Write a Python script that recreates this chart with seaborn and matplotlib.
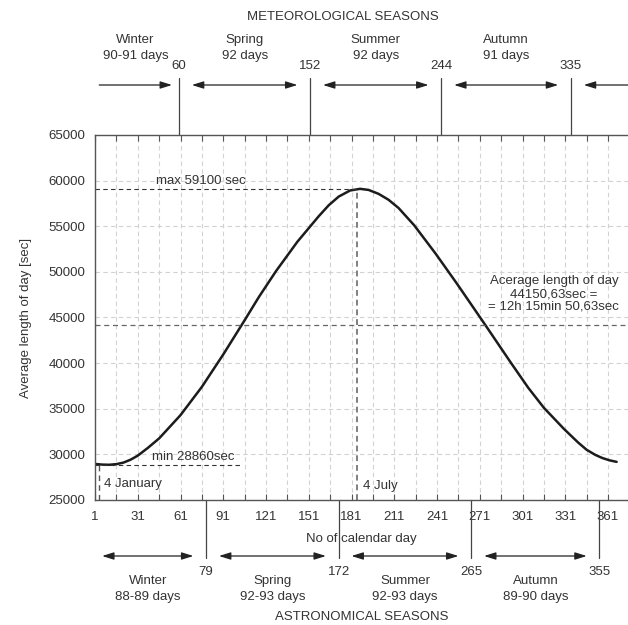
import numpy as np
import matplotlib
matplotlib.use("Agg")
import matplotlib.pyplot as plt
import matplotlib.transforms as mtransforms
import seaborn as sns

# Average length of day over the calendar year
days = [1, 6, 11, 16, 21, 26, 31, 38, 46, 61, 76, 91, 106, 116, 128, 143,
        158, 165, 172, 180, 187, 193, 200, 207, 214, 225, 240, 255, 275, 293,
        305, 316, 330, 340, 346, 352, 357, 362, 367]
length_sec = [28950, 28880, 28860, 28930, 29100, 29420, 29860, 30700, 31750,
              34300, 37400, 40950, 44700, 47250, 50080, 53300, 56100, 57300,
              58250, 58920, 59100, 58980, 58550, 57900, 57000, 55100, 52000,
              48700, 44150, 40000, 37300, 35100, 32800, 31300, 30500, 29950,
              29600, 29350, 29180]

x_ticks = [1, 31, 61, 91, 121, 151, 181, 211, 241, 271, 301, 331, 361]
y_ticks = [25000, 30000, 35000, 40000, 45000, 50000, 55000, 60000, 65000]

min_day, min_sec = 4, 28860
max_day, max_sec = 185, 59100
avg_sec = 44150.63

meteo_bounds = [60, 152, 244, 335]
meteo_names = ["Winter\n90-91 days", "Spring\n92 days",
               "Summer\n92 days", "Autumn\n91 days"]
astro_bounds = [79, 172, 265, 355]
astro_names = ["Winter\n88-89 days", "Spring\n92-93 days",
               "Summer\n92-93 days", "Autumn\n89-90 days"]

sns.set_theme(style="white")
plt.rcParams["font.family"] = ["Liberation Sans", "DejaVu Sans"]
plt.rcParams["text.color"] = "#333333"

FS = 9.5
W, H = 628, 625
fig = plt.figure(figsize=(W / 100, H / 100), dpi=100)
ax = fig.add_axes([95 / W, 1 - 500 / H, 1 - 95 / W, (500 - 135) / H])

sns.lineplot(x=days, y=length_sec, ax=ax, color="#1c1c1c", lw=1.8)

XMAX = 375
ax.set_xlim(1, XMAX)
ax.set_ylim(25000, 65000)

ax.set_xticks(x_ticks)
ax.set_xticks(np.arange(16, XMAX, 30), minor=True)
ax.set_yticks(y_ticks)
ax.set_yticklabels([str(v) for v in y_ticks])
ax.tick_params(axis="x", which="both", direction="in", top=True, bottom=True,
               length=4, width=0.8, color="#555555", labelsize=FS,
               labelcolor="#333333", pad=8)
ax.tick_params(axis="y", which="both", length=0, labelsize=FS,
               labelcolor="#333333", pad=7)

ax.grid(True, which="both", axis="x", color="#d2d2d2", ls=(0, (4, 3)), lw=0.8)
ax.grid(True, which="major", axis="y", color="#d2d2d2", ls=(0, (4, 3)), lw=0.8)

for side in ["left", "top", "bottom"]:
    ax.spines[side].set_color("#555555")
    ax.spines[side].set_linewidth(1.0)
ax.spines["right"].set_visible(False)

ax.set_xlabel("No of calendar day", fontsize=FS, color="#333333", labelpad=7)
ax.set_ylabel("Average length of day [sec]", fontsize=FS, color="#333333",
              labelpad=12)

# reference lines for minimum, maximum and mean
dash = (0, (4, 3))
ax.plot([1, 104], [min_sec, min_sec], color="#333333", lw=0.8, ls=dash)
ax.plot([min_day, min_day], [25000, min_sec], color="#555555", lw=1.0, ls=dash)
ax.plot([1, max_day], [max_sec, max_sec], color="#333333", lw=0.8, ls=dash)
ax.plot([max_day, max_day], [25000, max_sec], color="#808080", lw=1.4,
        ls=(0, (3, 2)))
ax.plot([1, XMAX], [avg_sec, avg_sec], color="#666666", lw=0.9, ls=dash)

ax.text(41, min_sec + 200, "min 28860sec", fontsize=FS, va="bottom")
ax.text(44, max_sec + 250, "max 59100 sec", fontsize=FS, va="bottom")
ax.text(min_day + 3, 26700, "4 January", fontsize=FS, va="center")
ax.text(max_day + 4, 26550, "4 July", fontsize=FS, va="center")
ax.text(323, 47570, "Acerage length of day\n44150,63sec =\n= 12h 15min 50,63sec",
        fontsize=FS, ha="center", va="center", linespacing=1.1)

# season markers above and below the plot
blend = mtransforms.blended_transform_factory(ax.transData, fig.transFigure)


def fy(px):
    return 1 - px / H


arrow_kw = dict(arrowstyle="-|>,head_length=0.7,head_width=0.22",
                color="#222222", lw=0.9, shrinkA=0, shrinkB=0,
                mutation_scale=10)
double_kw = dict(arrow_kw, arrowstyle="<|-|>,head_length=0.7,head_width=0.22")


def draw_arrow(x1, x2, y, kw):
    ax.annotate("", xy=(x2, fy(y)), xytext=(x1, fy(y)), xycoords=blend,
                textcoords=blend, arrowprops=kw, annotation_clip=False)


gap = 9

# meteorological seasons
fig.text(343 / W, fy(17), "METEOROLOGICAL SEASONS",
         fontsize=FS, ha="center", va="center")
for b in meteo_bounds:
    ax.plot([b, b], [fy(78), fy(135)], transform=blend, clip_on=False,
            color="#444444", lw=0.9)
    ax.text(b, fy(66), str(b), transform=blend, fontsize=FS,
            ha="center", va="center")
meteo_spans = [(4, meteo_bounds[0] - 5)] + [
    (meteo_bounds[i] + gap, meteo_bounds[i + 1] - gap) for i in range(3)]
for i, ((a, b), name) in enumerate(zip(meteo_spans, meteo_names)):
    if i == 0:
        draw_arrow(a, b, 85, arrow_kw)
    else:
        draw_arrow(a, b, 85, double_kw)
    ax.text(0.5 * (a + b), fy(48), name, transform=blend, fontsize=FS,
            ha="center", va="center", linespacing=1.35)
draw_arrow(XMAX, meteo_bounds[-1] + gap, 85, arrow_kw)

# astronomical seasons
astro_spans = [(6, astro_bounds[0] - gap)] + [
    (astro_bounds[i] + gap, astro_bounds[i + 1] - gap) for i in range(3)]
for b in astro_bounds:
    ax.plot([b, b], [fy(500), fy(558)], transform=blend, clip_on=False,
            color="#444444", lw=0.9)
    ax.text(b, fy(572), str(b), transform=blend, fontsize=FS,
            ha="center", va="center")
for (a, b), name in zip(astro_spans, astro_names):
    draw_arrow(a, b, 556, double_kw)
    ax.text(0.5 * (a + b), fy(589), name, transform=blend, fontsize=FS,
            ha="center", va="center", linespacing=1.35)
fig.text(362 / W, fy(617), "ASTRONOMICAL SEASONS",
         fontsize=FS, ha="center", va="center")

fig.savefig("out.png", dpi=100)
